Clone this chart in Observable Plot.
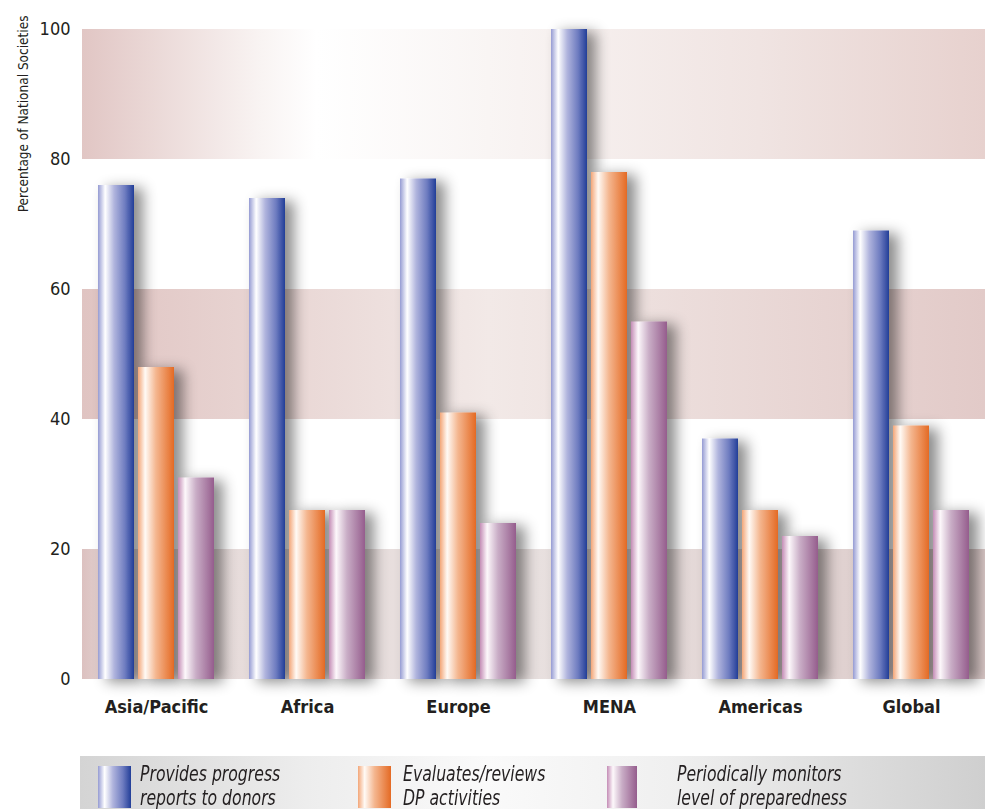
<!DOCTYPE html>
<html>
<head>
<meta charset="utf-8">
<script src="https://cdn.jsdelivr.net/npm/d3@7"></script>
<script src="https://cdn.jsdelivr.net/npm/@observablehq/plot@0.6"></script>
<style>
  body { margin: 0; background: #fff; }
  #wrap { position: relative; width: 985px; height: 809px; overflow: hidden;
          font-family: "DejaVu Sans Condensed", "Liberation Sans Narrow", sans-serif; }
  #chart { position: absolute; left: 0; top: 0; }
  #legend { position: absolute; left: 80px; top: 756px; width: 905px; height: 60px;
            background: linear-gradient(to right, #d4d4d4 0%, #ededed 25%, #fafafa 45%, #f0f0f0 65%, #cfcfcf 100%); }
  .sw { position: absolute; top: 10px; width: 33px; height: 42px; }
  .lbl { position: absolute; top: 6px; font-style: italic; font-size: 21px; line-height: 24px;
         color: #231f20; white-space: nowrap; transform: scaleX(0.83); transform-origin: 0 0; }
</style>
</head>
<body>
<div id="wrap">
  <div id="chart"></div>
  <div id="legend"></div>
</div>
<script>
// ---- data ----
const regions = ["Asia/Pacific", "Africa", "Europe", "MENA", "Americas", "Global"];
const seriesNames = [
  ["Provides progress", "reports to donors"],
  ["Evaluates/reviews", "DP activities"],
  ["Periodically monitors", "level of preparedness"]
];
const reportsToDonors      = [76, 74, 77, 100, 37, 69];
const evaluatesDP          = [48, 26, 41, 78, 26, 39];
const monitorsPreparedness = [31, 26, 24, 55, 22, 26];
const yTicks = [0, 20, 40, 60, 80, 100];
const bandLow  = [0, 40, 80];
const bandHigh = [20, 60, 100];
const yTitle = "Percentage of National Societies";

const toRows = arr => regions.map((r, i) => ({region: r, value: arr[i]}));
const band = i => [{lo: bandLow[i], hi: bandHigh[i]}];

const font = "'DejaVu Sans Condensed', 'Liberation Sans Narrow', sans-serif";

const svg = Plot.plot({
  width: 985,
  height: 745,
  marginLeft: 82,
  marginRight: 0,
  marginTop: 29,
  marginBottom: 66,
  style: {fontFamily: font, background: "transparent", color: "#231f20"},
  x: {domain: regions, paddingInner: 0.762, paddingOuter: 0.367, label: null},
  y: {domain: [0, 100], label: null},
  marks: [
    Plot.rect(band(0), {y1: "lo", y2: "hi", fill: "url(#bandLow)"}),
    Plot.rect(band(1), {y1: "lo", y2: "hi", fill: "url(#bandMid)"}),
    Plot.rect(band(2), {y1: "lo", y2: "hi", fill: "url(#bandTop)"}),
    Plot.barY(toRows(reportsToDonors), {x: "region", y: "value", fill: "url(#gBlue)", dx: -40}),
    Plot.barY(toRows(evaluatesDP), {x: "region", y: "value", fill: "url(#gOrange)", dx: 0}),
    Plot.barY(toRows(monitorsPreparedness), {x: "region", y: "value", fill: "url(#gPurple)", dx: 40}),
    Plot.ruleY([0], {stroke: "#231f20", strokeWidth: 3}),
    Plot.axisX({tickSize: 0, tickPadding: 21, fontSize: 18, fontWeight: "bold", fill: "#231f20", label: null}),
    Plot.axisY(yTicks, {tickSize: 0, tickPadding: 12, fontSize: 18, fill: "#231f20", label: null}),
    Plot.text([yTitle], {frameAnchor: "top-left", rotate: -90, textAnchor: "end", dx: -64, dy: -14,
                         fontSize: 13.5, fill: "#231f20"})
  ]
});

const root = d3.select(svg);
const defs = root.insert("defs", ":first-child");
function grad(id, stops) {
  const g = defs.append("linearGradient").attr("id", id)
    .attr("x1", 0).attr("x2", 1).attr("y1", 0).attr("y2", 0);
  stops.forEach(([o, c]) => g.append("stop").attr("offset", o).attr("stop-color", c));
}
grad("gBlue",   [[0, "#959bd3"], [0.2, "#ffffff"], [0.45, "#b0b4dd"], [0.75, "#6e7cc0"], [1, "#223e98"]]);
grad("gOrange", [[0, "#f3a678"], [0.2, "#fffaf5"], [0.5, "#f4b68f"], [1, "#e46a24"]]);
grad("gPurple", [[0, "#c48db6"], [0.2, "#fdf8fb"], [0.5, "#c9adc6"], [1, "#955d8d"]]);
grad("bandTop", [[0, "#e1c6c4"], [0.2, "#f9f4f3"], [0.26, "#ffffff"], [0.45, "#f9f5f4"], [0.75, "#f0e4e2"], [1, "#e7d1ce"]]);
grad("bandMid", [[0, "#e0c4c2"], [0.45, "#f2e9e7"], [1, "#e2cac8"]]);
grad("bandLow", [[0, "#dcc1c0"], [0.04, "#e6dad9"], [0.5, "#e8e0df"], [1, "#dccac9"]]);

const f = defs.append("filter").attr("id", "shadow")
  .attr("x", "-30%").attr("y", "-10%").attr("width", "200%").attr("height", "125%");
f.append("feDropShadow").attr("dx", 9).attr("dy", 3).attr("stdDeviation", 7)
  .attr("flood-color", "#000").attr("flood-opacity", 0.45);
root.selectAll("g[aria-label='bar']").attr("filter", "url(#shadow)");
root.selectAll("g[aria-label='rule']").attr("filter", "url(#shadow)");

document.getElementById("chart").appendChild(svg);

// ---- legend ----
const legend = d3.select("#legend");
const swLeft = [18, 278, 527];
const txtLeft = [60, 323, 597];
const swFill = ["gBlue", "gOrange", "gPurple"];
const cssGrad = {
  gBlue: "linear-gradient(to right,#959bd3 0%,#ffffff 20%,#b0b4dd 45%,#6e7cc0 75%,#223e98 100%)",
  gOrange: "linear-gradient(to right,#f3a678 0%,#fffaf5 20%,#f4b68f 50%,#e46a24 100%)",
  gPurple: "linear-gradient(to right,#c48db6 0%,#fdf8fb 20%,#c9adc6 50%,#955d8d 100%)"
};
seriesNames.forEach((lines, i) => {
  legend.append("div").attr("class", "sw")
    .style("left", swLeft[i] + "px").style("width", (i === 2 ? 30 : 33) + "px")
    .style("background", cssGrad[swFill[i]]);
  legend.append("div").attr("class", "lbl").style("left", txtLeft[i] + "px")
    .html(lines[0] + "<br>" + lines[1]);
});
</script>
</body>
</html>
